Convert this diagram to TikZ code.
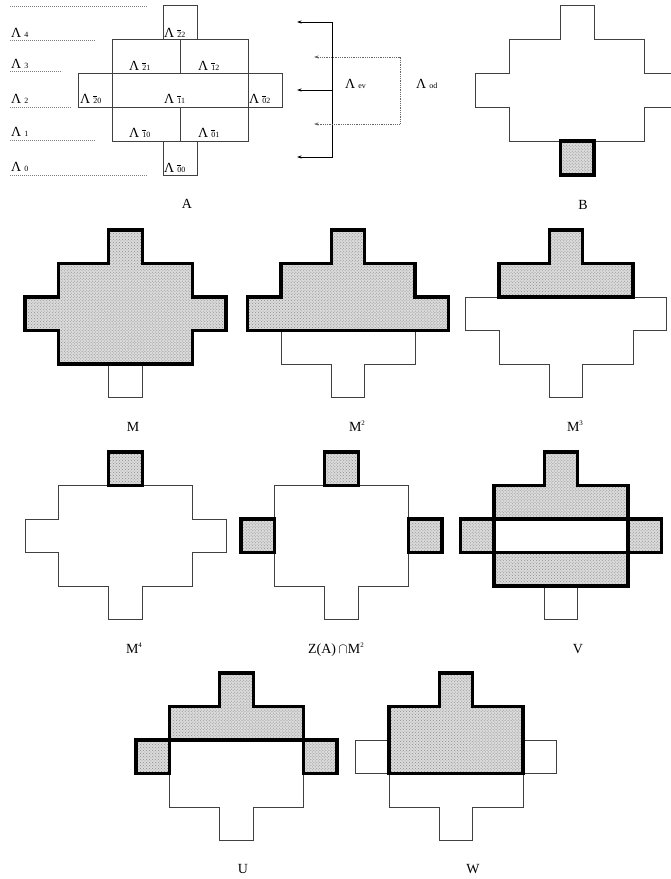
\documentclass[tikz,border=0pt]{standalone}
\usepackage{fontspec}
\setmainfont{Liberation Serif}
\usepackage{tikz}
\usetikzlibrary{arrows.meta,patterns}
\newcommand{\subsz}{\fontsize{8}{9}\selectfont}
\newcommand{\lam}[1]{Λ\hspace{3bp}{\subsz #1}}
\newcommand{\barred}[1]{\makebox[0pt][l]{\rule[6.3bp]{4bp}{0.45bp}}#1}
\newcommand{\powr}[1]{\raisebox{6bp}{\fontsize{7}{7}\selectfont #1}}
\newcommand{\crossoutline}{(-0.5,0) -- (0.5,0) -- (0.5,1) -- (2,1) -- (2,2) -- (3,2) -- (3,3) -- (2,3) -- (2,4) -- (0.5,4) -- (0.5,5) -- (-0.5,5) -- (-0.5,4) -- (-2,4) -- (-2,3) -- (-3,3) -- (-3,2) -- (-2,2) -- (-2,1) -- (-0.5,1) -- cycle}
\newcommand{\crownoutline}{(-0.5,0) -- (0.5,0) -- (0.5,1) -- (2,1) -- (2,2) -- (-2,2) -- (-2,1) -- (-0.5,1) -- cycle}
\tikzset{
  outline/.style={draw=black!75,line width=0.8bp},
  heavy/.style={draw=black,line width=3.2bp,preaction={fill=gray!28},pattern=crosshatch dots,pattern color=gray!90},
  levelline/.style={draw=gray,line width=0.5bp,dash pattern=on 1bp off 1bp},
  bracket/.style={draw=gray!80!black,line width=0.8bp,densely dotted},
  lamlabel/.style={anchor=base west,inner sep=0pt,font=\fontsize{14}{16}\selectfont},
  caption/.style={anchor=base,inner sep=0pt,font=\fontsize{14}{16}\selectfont},
}
\begin{document}
\begin{tikzpicture}[x=1bp,y=-1bp,>={Stealth[length=4.5bp,width=3bp]}]
\useasboundingbox (0,0) rectangle (671,879);
% panel A: levels
\draw[levelline] (10,6) -- (147,6);
\draw[levelline] (10,40) -- (95,40);
\draw[levelline] (10,71) -- (62,71);
\draw[levelline] (10,107) -- (71,107);
\draw[levelline] (10,140) -- (95,140);
\draw[levelline] (10,175) -- (147,175);
\node[lamlabel] (lev4) at (11,37) {\lam{4}};
\node[lamlabel] (lev3) at (11,68) {\lam{3}};
\node[lamlabel] (lev2) at (11,103) {\lam{2}};
\node[lamlabel] (lev1) at (11,136) {\lam{1}};
\node[lamlabel] (lev0) at (11,171) {\lam{0}};
% panel A: cells
\begin{scope}[shift={(180,5)},x=34bp,y=-34bp]
\draw[outline] (-0.5,0) rectangle (0.5,1);
\draw[outline] (-2,1) rectangle (0,2);
\draw[outline] (0,1) rectangle (2,2);
\draw[outline] (-3,2) rectangle (-2,3);
\draw[outline] (-2,2) rectangle (2,3);
\draw[outline] (2,2) rectangle (3,3);
\draw[outline] (-2,3) rectangle (0,4);
\draw[outline] (0,3) rectangle (2,4);
\draw[outline] (-0.5,4) rectangle (0.5,5);
\end{scope}
\node[lamlabel] (lam22) at (164,37) {\lam{\barred{2}2}};
\node[lamlabel] (lam21) at (129,70) {\lam{\barred{2}1}};
\node[lamlabel] (lam12) at (198,70) {\lam{\barred{1}2}};
\node[lamlabel] (lam20) at (80,103) {\lam{\barred{2}0}};
\node[lamlabel] (lam11) at (164,103) {\lam{\barred{1}1}};
\node[lamlabel] (lam02) at (249,103) {\lam{\barred{0}2}};
\node[lamlabel] (lam10) at (129,137) {\lam{\barred{1}0}};
\node[lamlabel] (lam01) at (198,137) {\lam{\barred{0}1}};
\node[lamlabel] (lam00) at (164,172) {\lam{\barred{0}0}};
% panel A: even and odd levels
\coordinate (trunktop) at (332,22);
\coordinate (trunkmid) at (332,90);
\coordinate (trunkbot) at (332,157);
\coordinate (tiptop) at (297,22);
\coordinate (tipmid) at (297,90);
\coordinate (tipbot) at (297,157);
\draw[outline,draw=black,<->] (tiptop) -- (trunktop) -- (trunkbot) -- (tipbot);
\draw[outline,draw=black,->] (trunkmid) -- (tipmid);
\coordinate (oddtop) at (400,57);
\coordinate (oddbot) at (400,124);
\coordinate (oddtiptop) at (314,57);
\coordinate (oddtipbot) at (314,124);
\draw[bracket,<->] (oddtiptop) -- (oddtop) -- (oddbot) -- (oddtipbot);
\node[lamlabel] (lamev) at (345,88) {\lam{ev}};
\node[lamlabel] (lamod) at (416,88) {\lam{od}};
\node[caption] (capA) at (187,208) {A};
% panel B
\begin{scope}[shift={(577,5)},x=33.8bp,y=-34bp]
\draw[outline] \crossoutline;
\draw[heavy] (-0.5,4) rectangle (0.5,5);
\end{scope}
\node[caption] (capB) at (583,209) {B};
% M
\begin{scope}[shift={(125.5,230)},x=33.5bp,y=-33.5bp]
\draw[outline] \crossoutline;
\draw[heavy] (-0.5,0) -- (0.5,0) -- (0.5,1) -- (2,1) -- (2,2) -- (3,2) -- (3,3) -- (2,3) -- (2,4) -- (-2,4) -- (-2,3) -- (-3,3) -- (-3,2) -- (-2,2) -- (-2,1) -- (-0.5,1) -- cycle;
\end{scope}
\node[caption] (capM) at (133,431) {M};
% M^2
\begin{scope}[shift={(348,230)},x=33.5bp,y=-33.5bp]
\draw[outline] \crossoutline;
\draw[heavy] (-0.5,0) -- (0.5,0) -- (0.5,1) -- (2,1) -- (2,2) -- (3,2) -- (3,3) -- (-3,3) -- (-3,2) -- (-2,2) -- (-2,1) -- (-0.5,1) -- cycle;
\end{scope}
\node[caption] (capMsq) at (357,431) {M\powr{2}};
% M^3
\begin{scope}[shift={(566,230)},x=33.5bp,y=-33.5bp]
\draw[outline] \crossoutline;
\draw[heavy] \crownoutline;
\end{scope}
\node[caption] (capMcube) at (575,431) {M\powr{3}};
% M^4
\begin{scope}[shift={(125.5,452)},x=33.5bp,y=-33.5bp]
\draw[outline] \crossoutline;
\draw[heavy] (-0.5,0) rectangle (0.5,1);
\end{scope}
\node[caption] (capMfour) at (134,653) {M\powr{4}};
% Z(A) and M^2
\begin{scope}[shift={(341.5,452)},x=33.5bp,y=-33.5bp]
\draw[outline] \crossoutline;
\draw[heavy] (-0.5,0) rectangle (0.5,1);
\draw[heavy] (-3,2) rectangle (-2,3);
\draw[heavy] (2,2) rectangle (3,3);
\end{scope}
\node[caption] (capZ) at (336,653) {Z(A)\,$\cap$M\powr{2}};
% V
\begin{scope}[shift={(561,452)},x=33.5bp,y=-33.5bp]
\draw[outline] \crossoutline;
\draw[heavy] \crownoutline;
\draw[heavy] (-3,2) rectangle (-2,3);
\draw[heavy] (2,2) rectangle (3,3);
\draw[heavy] (-2,3) rectangle (2,4);
\end{scope}
\node[caption] (capV) at (578,653) {V};
% U
\begin{scope}[shift={(236.5,673)},x=33.5bp,y=-33.5bp]
\draw[outline] \crossoutline;
\draw[heavy] \crownoutline;
\draw[heavy] (-3,2) rectangle (-2,3);
\draw[heavy] (2,2) rectangle (3,3);
\end{scope}
\node[caption] (capU) at (243,873) {U};
% W
\begin{scope}[shift={(456,673)},x=33.5bp,y=-33.5bp]
\draw[outline] \crossoutline;
\draw[heavy] (-0.5,0) -- (0.5,0) -- (0.5,1) -- (2,1) -- (2,3) -- (-2,3) -- (-2,1) -- (-0.5,1) -- cycle;
\end{scope}
\node[caption] (capW) at (473,873) {W};
\end{tikzpicture}
\end{document}
